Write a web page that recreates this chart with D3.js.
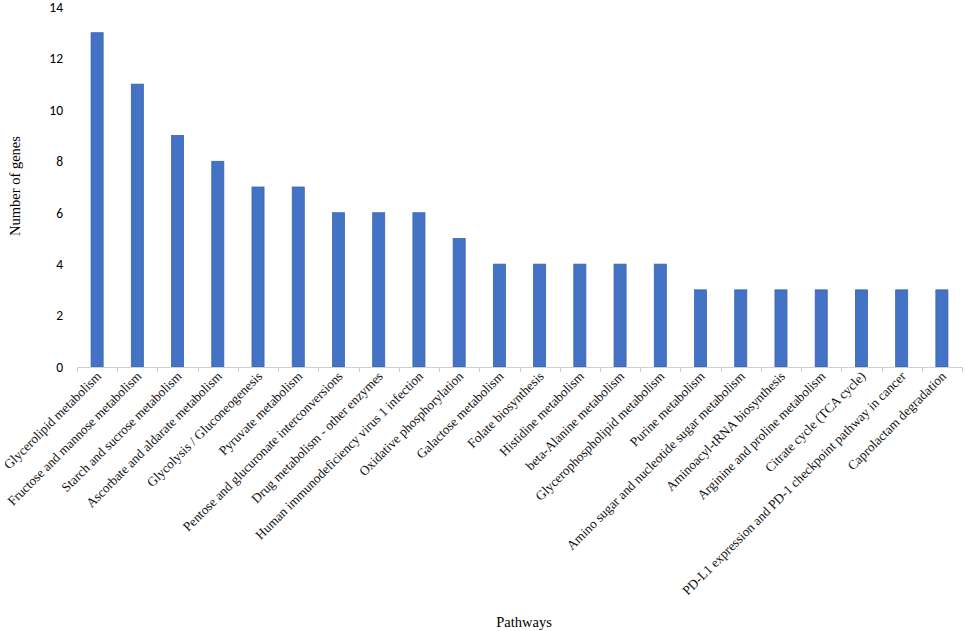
<!DOCTYPE html>
<html>
<head>
<meta charset="utf-8">
<script src="https://cdnjs.cloudflare.com/ajax/libs/d3/7.8.5/d3.min.js"></script>
<style>
  body { margin: 0; background: #fff; }
</style>
</head>
<body>
<div id="chart"></div>
<script>
var pathways = [
    "Glycerolipid metabolism",
    "Fructose and mannose metabolism",
    "Starch and sucrose metabolism",
    "Ascorbate and aldarate metabolism",
    "Glycolysis / Gluconeogenesis",
    "Pyruvate metabolism",
    "Pentose and glucuronate interconversions",
    "Drug metabolism - other enzymes",
    "Human immunodeficiency virus 1 infection",
    "Oxidative phosphorylation",
    "Galactose metabolism",
    "Folate biosynthesis",
    "Histidine metabolism",
    "beta-Alanine metabolism",
    "Glycerophospholipid metabolism",
    "Purine metabolism",
    "Amino sugar and nucleotide sugar metabolism",
    "Aminoacyl-tRNA biosynthesis",
    "Arginine and proline metabolism",
    "Citrate cycle (TCA cycle)",
    "PD-L1 expression and PD-1 checkpoint pathway in cancer",
    "Caprolactam degradation"
];
var geneCounts = [13, 11, 9, 8, 7, 7, 6, 6, 6, 5, 4, 4, 4, 4, 4, 3, 3, 3, 3, 3, 3, 3];
var yTicks = [0, 2, 4, 6, 8, 10, 12, 14];

var margin = { left: 77, right: 3, top: 7, bottom: 264 };
var width = 965 - margin.left - margin.right;
var height = 631 - margin.top - margin.bottom;

var svg = d3.select("#chart")
    .append("svg")
    .attr("width", 965)
    .attr("height", 631);

var g = svg.append("g")
    .attr("transform", "translate(" + margin.left + "," + margin.top + ")");

var data = pathways.map(function(p, i){ return { name: p, value: geneCounts[i] }; });

// Scales
var x = d3.scaleBand()
    .domain(pathways)
    .range([0, width])
    .paddingInner(0.7)
    .paddingOuter(0.35);
var y = d3.scaleLinear().domain([0, 14]).range([height, 0]);

// Bars
g.selectAll("rect.bar")
    .data(data)
    .enter().append("rect")
    .attr("class", "bar")
    .attr("x", function(d){ return x(d.name); })
    .attr("y", function(d){ return y(d.value); })
    .attr("width", x.bandwidth())
    .attr("height", function(d){ return height - y(d.value); })
    .attr("fill", "#4472c4")
    .attr("stroke", "#3a64b4")
    .attr("stroke-width", 0.8);

// Y axis (labels only)
var yAxis = g.append("g")
    .call(d3.axisLeft(y).tickValues(yTicks).tickSize(0).tickPadding(14));
yAxis.select(".domain").remove();
yAxis.selectAll("text")
    .attr("font-family", "Carlito, 'Open Sans', 'Liberation Sans', sans-serif")
    .attr("font-size", "13.5px")
    .attr("fill", "#000");

// X axis line and ticks between categories
g.append("line")
    .attr("x1", 0).attr("x2", width)
    .attr("y1", height + 0.5).attr("y2", height + 0.5)
    .attr("stroke", "#d0d0d0")
    .attr("stroke-width", 1);
g.selectAll("line.tick")
    .data(d3.range(pathways.length + 1))
    .enter().append("line")
    .attr("class", "tick")
    .attr("x1", function(i){ return Math.round(i * x.step()) + 0.5; })
    .attr("x2", function(i){ return Math.round(i * x.step()) + 0.5; })
    .attr("y1", height).attr("y2", height + 5)
    .attr("stroke", "#d0d0d0");

// X labels rotated
g.selectAll("text.xlab")
    .data(data)
    .enter().append("text")
    .attr("class", "xlab")
    .attr("transform", function(d){
        return "translate(" + (x(d.name) + x.bandwidth() / 2 + 5) + "," + (height + 10) + ") rotate(-45)";
    })
    .attr("text-anchor", "end")
    .attr("font-family", "'Liberation Serif', 'Times New Roman', serif")
    .attr("font-size", "13.2px")
    .attr("fill", "#111")
    .text(function(d){ return d.name; });

// Axis titles
svg.append("text")
    .attr("transform", "rotate(-90)")
    .attr("x", -186)
    .attr("y", 20)
    .attr("text-anchor", "middle")
    .attr("font-family", "'Liberation Serif', 'Times New Roman', serif")
    .attr("font-size", "14.5px")
    .text("Number of genes");

svg.append("text")
    .attr("x", 524)
    .attr("y", 627)
    .attr("text-anchor", "middle")
    .attr("font-family", "'Liberation Serif', 'Times New Roman', serif")
    .attr("font-size", "14.5px")
    .text("Pathways");
</script>
</body>
</html>
